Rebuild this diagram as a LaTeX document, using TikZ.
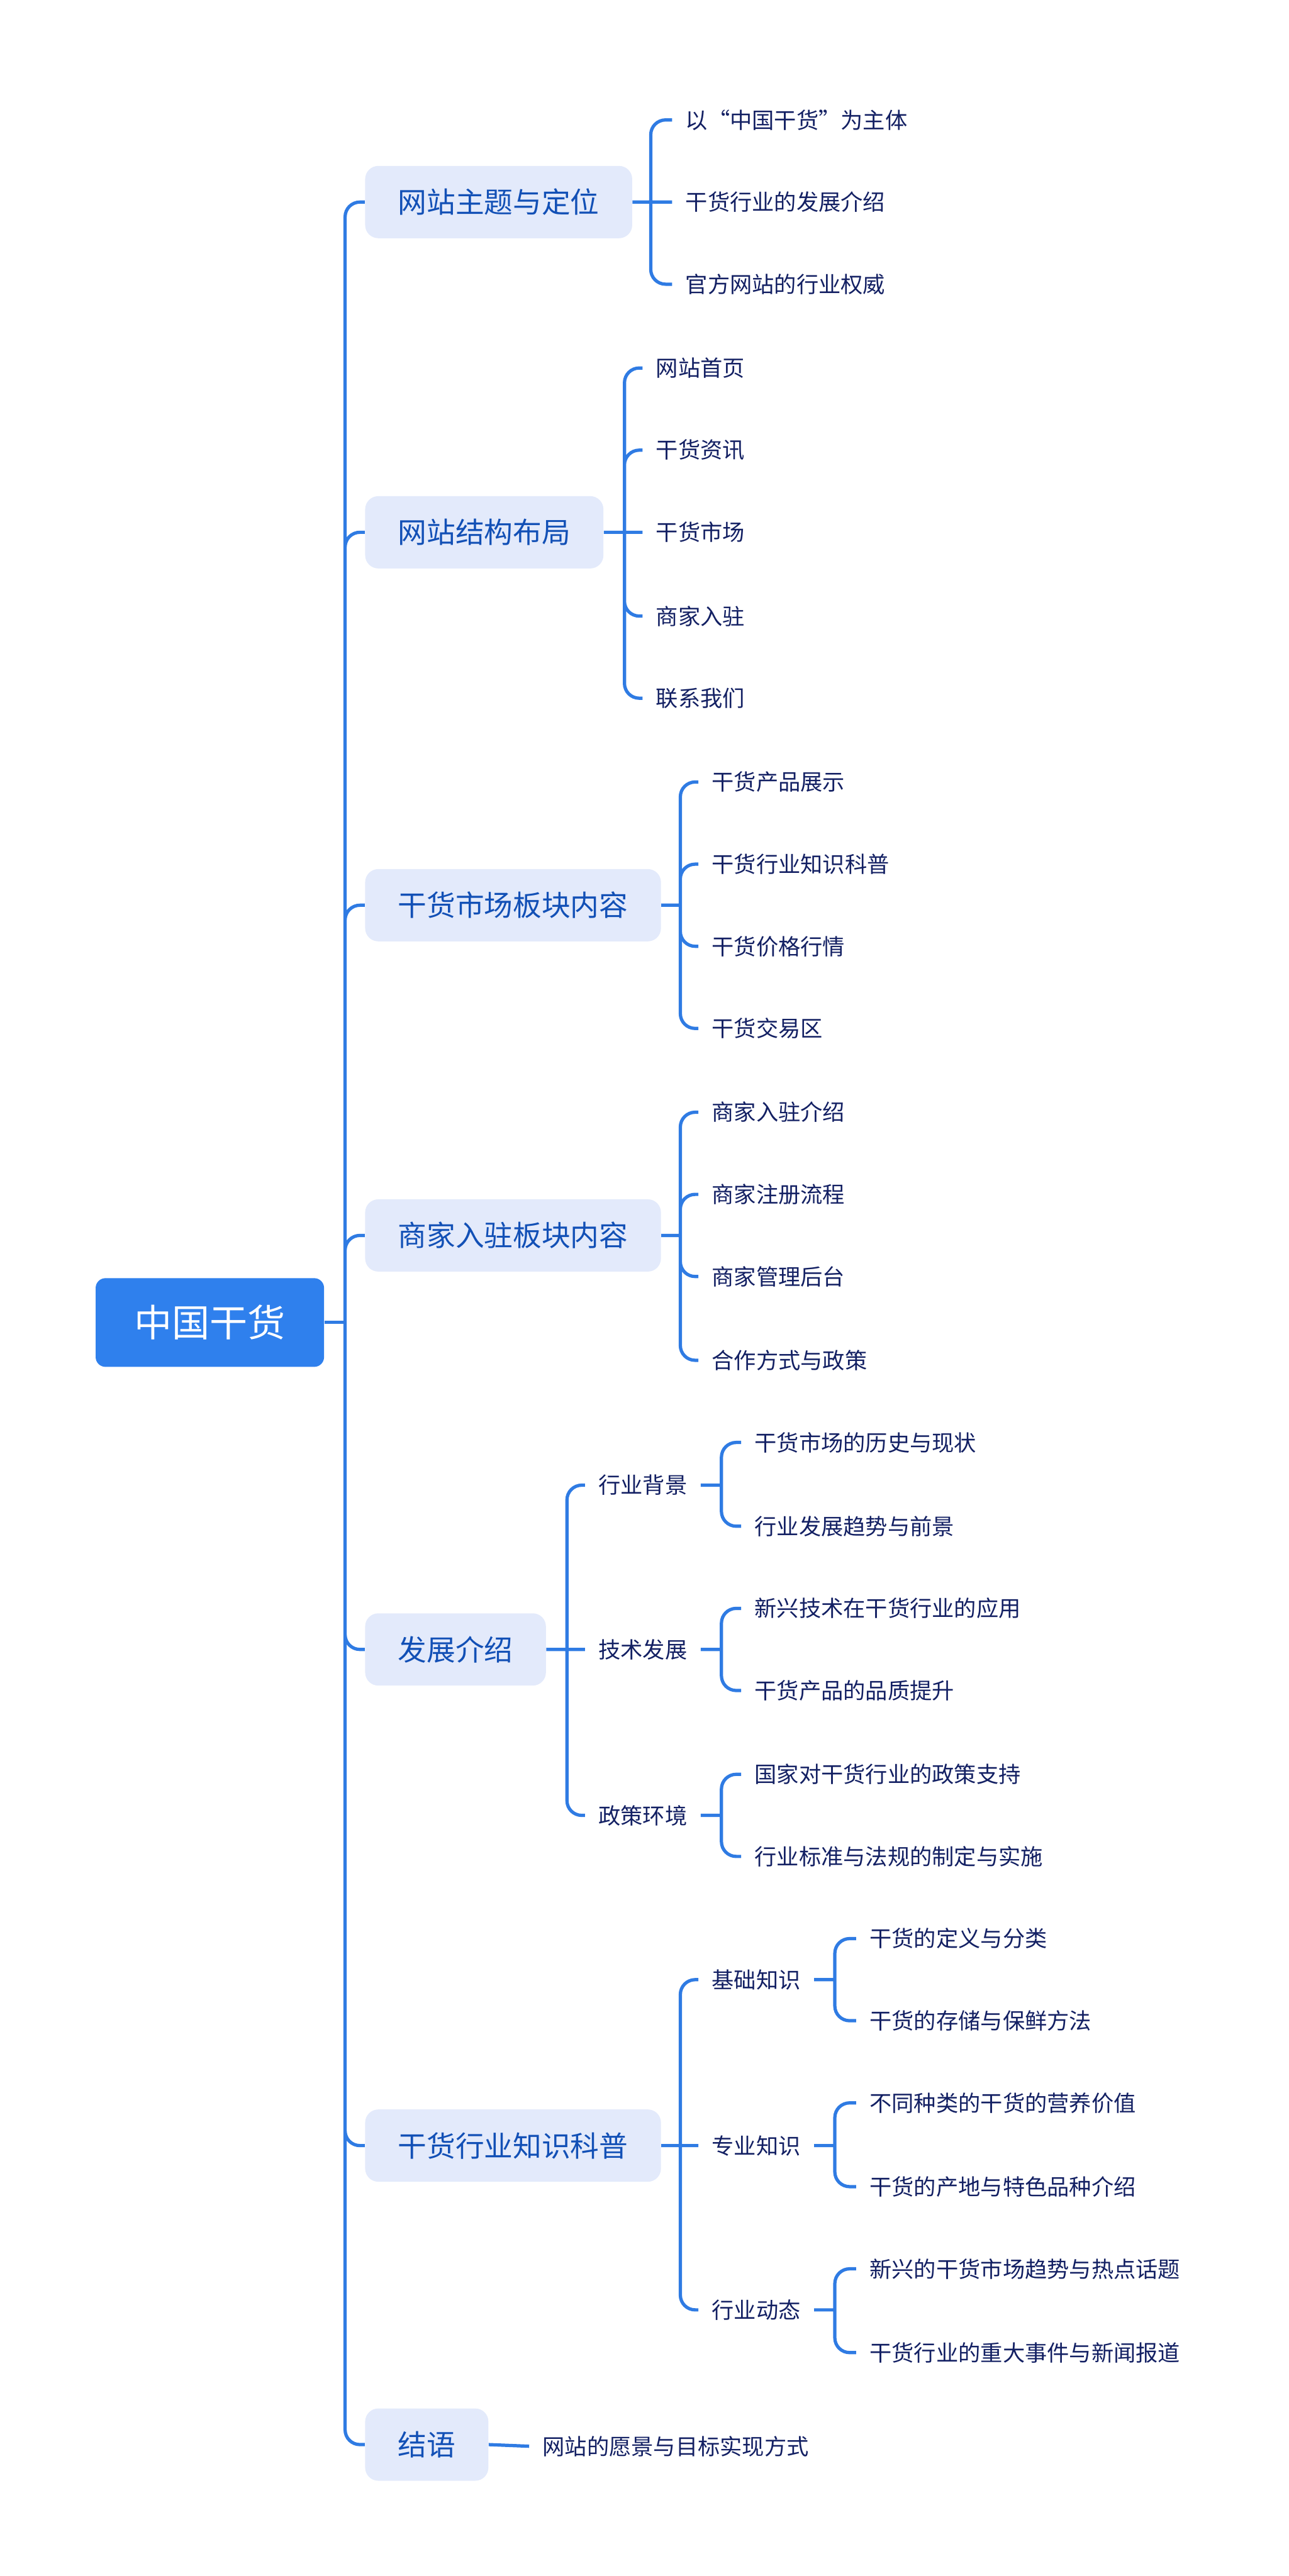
\documentclass[tikz,border=0pt]{standalone}
\usepackage{fontspec}
\setmainfont{Noto Sans CJK SC}
\definecolor{rootblue}{HTML}{2F80ED}
\definecolor{linkblue}{HTML}{2F7BE3}
\definecolor{boxfill}{HTML}{E3EAFB}
\definecolor{boxtext}{HTML}{1250B6}
\definecolor{leaftext}{HTML}{132063}

\begin{document}
\begin{tikzpicture}[x=1pt,y=-1pt,
  link/.style={draw=linkblue,line width=2pt,rounded corners=9pt},
  root/.style={fill=rootblue,text=white,rounded corners=6pt,inner xsep=23.5pt,minimum height=54pt,anchor=west,font=\fontsize{23}{27}\selectfont},
  topic/.style={fill=boxfill,text=boxtext,rounded corners=8pt,inner xsep=20pt,minimum height=44pt,anchor=west,font=\fontsize{17.5}{21}\selectfont},
  item/.style={text=leaftext,inner xsep=8pt,inner ysep=3pt,anchor=west,font=\fontsize{13.5}{16}\selectfont}]
 \useasboundingbox (0,0) rectangle (784,1568);

 \node[root] (root) at (58,805) {中国干货};

 \node[topic] (t1) at (222,123)  {网站主题与定位};
 \node[topic] (t2) at (222,324)  {网站结构布局};
 \node[topic] (t3) at (222,551)  {干货市场板块内容};
 \node[topic] (t4) at (222,752)  {商家入驻板块内容};
 \node[topic] (t5) at (222,1004) {发展介绍};
 \node[topic] (t6) at (222,1306) {干货行业知识科普};
 \node[topic] (t7) at (222,1488) {结语};

 \coordinate (trunk) at (210,805);
 \draw[link] (root.east) -- (trunk);
 \draw[link] (trunk) |- (t1.west) (trunk) |- (t2.west) (trunk) |- (t3.west) (trunk) |- (t4.west)
             (trunk) |- (t5.west) (trunk) |- (t6.west) (trunk) |- (t7.west);

 % website theme
 \node[item] (t1-1) at (409,73)  {以“中国干货”为主体};
 \node[item] (t1-2) at (409,123) {干货行业的发展介绍};
 \node[item] (t1-3) at (409,173) {官方网站的行业权威};
 \coordinate (j1) at (396,123);
 \draw[link] (t1.east) -- (j1) (j1) |- (t1-1.west) (j1) -- (t1-2.west) (j1) |- (t1-3.west);

 % structure
 \node[item] (t2-1) at (391,224) {网站首页};
 \node[item] (t2-2) at (391,274) {干货资讯};
 \node[item] (t2-3) at (391,324) {干货市场};
 \node[item] (t2-4) at (391,375) {商家入驻};
 \node[item] (t2-5) at (391,425) {联系我们};
 \coordinate (j2) at (380,324);
 \draw[link] (t2.east) -- (j2) (j2) |- (t2-1.west) (j2) |- (t2-2.west) (j2) -- (t2-3.west)
             (j2) |- (t2-4.west) (j2) |- (t2-5.west);

 % market block
 \node[item] (t3-1) at (425,476) {干货产品展示};
 \node[item] (t3-2) at (425,526) {干货行业知识科普};
 \node[item] (t3-3) at (425,576) {干货价格行情};
 \node[item] (t3-4) at (425,626) {干货交易区};
 \coordinate (j3) at (414,551);
 \draw[link] (t3.east) -- (j3) (j3) |- (t3-1.west) (j3) |- (t3-2.west) (j3) |- (t3-3.west) (j3) |- (t3-4.west);

 % merchant block
 \node[item] (t4-1) at (425,677) {商家入驻介绍};
 \node[item] (t4-2) at (425,727) {商家注册流程};
 \node[item] (t4-3) at (425,777) {商家管理后台};
 \node[item] (t4-4) at (425,828) {合作方式与政策};
 \coordinate (j4) at (414,752);
 \draw[link] (t4.east) -- (j4) (j4) |- (t4-1.west) (j4) |- (t4-2.west) (j4) |- (t4-3.west) (j4) |- (t4-4.west);

 % development
 \node[item] (t5-1) at (356,904)  {行业背景};
 \node[item] (t5-2) at (356,1004) {技术发展};
 \node[item] (t5-3) at (356,1105) {政策环境};
 \coordinate (j5) at (345,1004);
 \draw[link] (t5.east) -- (j5) (j5) |- (t5-1.west) (j5) -- (t5-2.west) (j5) |- (t5-3.west);

 \node[item] (t5-1-1) at (451,878)  {干货市场的历史与现状};
 \node[item] (t5-1-2) at (451,929)  {行业发展趋势与前景};
 \node[item] (t5-2-1) at (451,979)  {新兴技术在干货行业的应用};
 \node[item] (t5-2-2) at (451,1029) {干货产品的品质提升};
 \node[item] (t5-3-1) at (451,1080) {国家对干货行业的政策支持};
 \node[item] (t5-3-2) at (451,1130) {行业标准与法规的制定与实施};
 \coordinate (j5-1) at (439,904);
 \coordinate (j5-2) at (439,1004);
 \coordinate (j5-3) at (439,1105);
 \draw[link] (t5-1.east) -- (j5-1) (j5-1) |- (t5-1-1.west) (j5-1) |- (t5-1-2.west);
 \draw[link] (t5-2.east) -- (j5-2) (j5-2) |- (t5-2-1.west) (j5-2) |- (t5-2-2.west);
 \draw[link] (t5-3.east) -- (j5-3) (j5-3) |- (t5-3-1.west) (j5-3) |- (t5-3-2.west);

 % knowledge
 \node[item] (t6-1) at (425,1205) {基础知识};
 \node[item] (t6-2) at (425,1306) {专业知识};
 \node[item] (t6-3) at (425,1406) {行业动态};
 \coordinate (j6) at (414,1306);
 \draw[link] (t6.east) -- (j6) (j6) |- (t6-1.west) (j6) -- (t6-2.west) (j6) |- (t6-3.west);

 \node[item] (t6-1-1) at (521,1180) {干货的定义与分类};
 \node[item] (t6-1-2) at (521,1230) {干货的存储与保鲜方法};
 \node[item] (t6-2-1) at (521,1280) {不同种类的干货的营养价值};
 \node[item] (t6-2-2) at (521,1331) {干货的产地与特色品种介绍};
 \node[item] (t6-3-1) at (521,1381) {新兴的干货市场趋势与热点话题};
 \node[item] (t6-3-2) at (521,1432) {干货行业的重大事件与新闻报道};
 \coordinate (j6-1) at (508,1205);
 \coordinate (j6-2) at (508,1306);
 \coordinate (j6-3) at (508,1406);
 \draw[link] (t6-1.east) -- (j6-1) (j6-1) |- (t6-1-1.west) (j6-1) |- (t6-1-2.west);
 \draw[link] (t6-2.east) -- (j6-2) (j6-2) |- (t6-2-1.west) (j6-2) |- (t6-2-2.west);
 \draw[link] (t6-3.east) -- (j6-3) (j6-3) |- (t6-3-1.west) (j6-3) |- (t6-3-2.west);

 % closing
 \node[item] (t7-1) at (322,1489) {网站的愿景与目标实现方式};
 \draw[link] (t7.east) -- (t7-1.west);
\end{tikzpicture}
\end{document}
